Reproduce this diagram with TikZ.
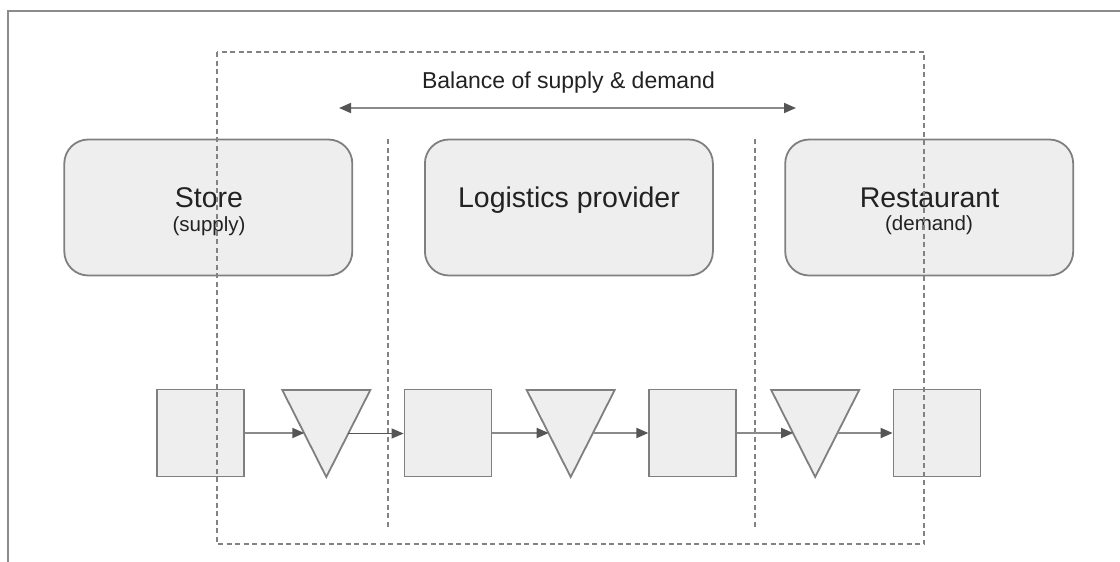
\documentclass[tikz,border=0pt]{standalone}
\usepackage{fontspec}
\setmainfont{Liberation Sans}
\usetikzlibrary{arrows.meta}
\definecolor{boxfill}{HTML}{EEEEEE}
\definecolor{boxline}{HTML}{7F7F7F}
\definecolor{dashcol}{HTML}{828282}
\definecolor{framecol}{HTML}{8C8C8C}
\definecolor{flowcol}{HTML}{8A8A8A}
\definecolor{tipcol}{HTML}{555555}
\definecolor{txtcol}{HTML}{222222}
\tikzset{
  frameline/.style={draw=framecol, line width=2.5pt},
  dashline/.style={draw=dashcol, line width=1.5pt, dash pattern=on 5pt off 3.5pt},
  rbox/.style={draw=boxline, fill=boxfill, line width=1.8pt, rounded corners=24pt,
    minimum width=288pt, minimum height=136pt, inner sep=0pt},
  sqbox/.style={draw=boxline, fill=boxfill, line width=1.8pt,
    minimum width=87pt, minimum height=87pt, inner sep=0pt},
  tribox/.style={draw=boxline, fill=boxfill, line width=1.8pt, line join=miter},
  flow/.style={draw=flowcol, line width=1.8pt,
    -{Triangle[length=12pt,width=10pt,fill=tipcol,color=tipcol]}},
  flowthin/.style={draw=tipcol, line width=1.2pt,
    -{Triangle[length=12pt,width=10pt,fill=tipcol,color=tipcol]}},
  balance/.style={draw=flowcol, line width=1.8pt,
    {Triangle[length=12pt,width=10pt,fill=tipcol,color=tipcol]}-{Triangle[length=12pt,width=10pt,fill=tipcol,color=tipcol]}},
  bigtxt/.style={text=txtcol, inner sep=0pt, anchor=base, font=\fontsize{28.5}{30}\selectfont},
  midtxt/.style={text=txtcol, inner sep=0pt, anchor=base, font=\fontsize{23}{25}\selectfont},
  smalltxt/.style={text=txtcol, inner sep=0pt, anchor=base, font=\fontsize{20.5}{22}\selectfont},
}
\begin{document}
\begin{tikzpicture}[x=1pt, y=-1pt]
\useasboundingbox (0,0) rectangle (1120,562);
% outer frame (left and top edges visible)
\draw[frameline] (8,562) -- (8,11) -- (1120,11);

% top boxes
\node[rbox] (store) at (208.3,207.5) {};
\node[rbox] (logi) at (568.9,207.5) {};
\node[rbox] (rest) at (929.2,207.5) {};
\node[bigtxt] (storeT) at (209,207) {Store};
\node[smalltxt] (storeS) at (209,231.5) {(supply)};
\node[bigtxt] (logiT) at (569,207) {Logistics provider};
\node[bigtxt] (restT) at (929.5,207) {Restaurant};
\node[smalltxt] (restS) at (929,230.5) {(demand)};

% bottom flow shapes
\node[sqbox] (s1) at (200.3,433) {};
\node[sqbox] (s2) at (448,433) {};
\node[sqbox] (s3) at (692.8,433) {};
\node[sqbox] (s4) at (937,433) {};
\draw[tribox] (282.3,390) -- (370.3,390) -- (326.3,477) -- cycle;
\draw[tribox] (526.7,390) -- (614.7,390) -- (570.7,477) -- cycle;
\draw[tribox] (771.2,390) -- (859.2,390) -- (815.2,477) -- cycle;
\coordinate (t1in) at (304.3,433);
\coordinate (t1out) at (348.3,433.5);
\coordinate (t2in) at (548.7,433);
\coordinate (t2out) at (592.7,433);
\coordinate (t3in) at (793.2,433);
\coordinate (t3out) at (837.2,433);

% dashed frames and separators
\draw[dashline] (217,52) rectangle (924,544);
\draw[dashline] (388,139) -- (388,529);
\draw[dashline] (755,139) -- (755,529);

% flow arrows
\draw[flow] (s1.east) -- (t1in);
\draw[flowthin] (t1out) -- (s2.west |- t1out);
\draw[flow] (s2.east) -- (t2in);
\draw[flow] (t2out) -- (s3.west);
\draw[flow] (s3.east) -- (t3in);
\draw[flow] (t3out) -- (s4.west);

% balance arrow
\coordinate (balL) at (339,108);
\coordinate (balR) at (796,108);
\draw[balance] (balL) -- (balR);
\node[midtxt] (balT) at (568.5,88) {Balance of supply \& demand};
\end{tikzpicture}
\end{document}
